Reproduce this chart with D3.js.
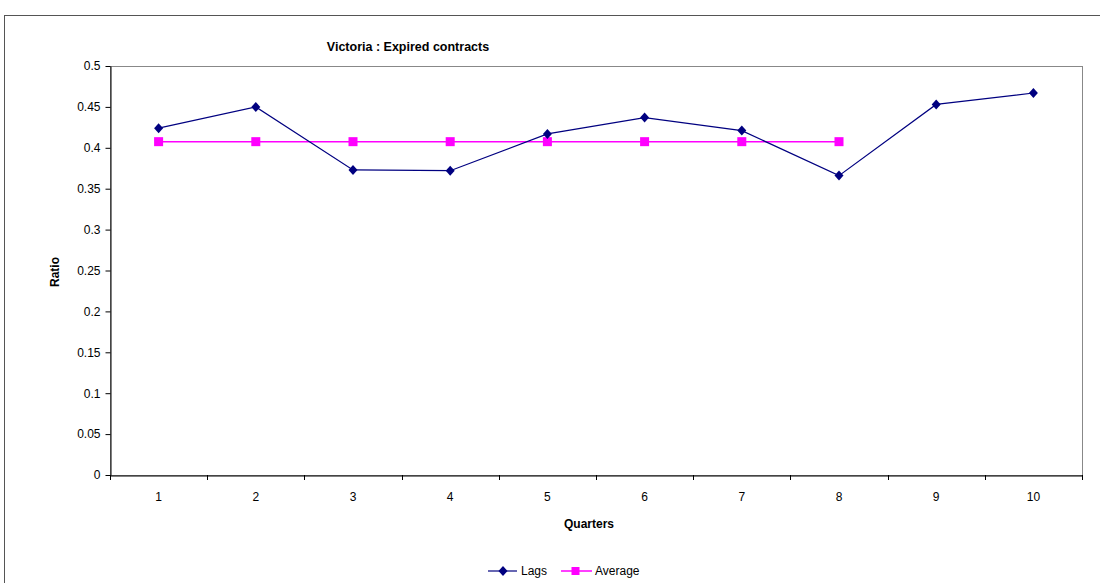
<!DOCTYPE html>
<html><head><meta charset="utf-8">
<script src="https://cdn.jsdelivr.net/npm/d3@7"></script>
<style>body{margin:0;background:#fff}svg{display:block}</style>
</head><body><svg id="c" width="1100" height="583"></svg>
<script>
const quarters = ["1","2","3","4","5","6","7","8","9","10"];
const lags = [0.424, 0.450, 0.373, 0.372, 0.417, 0.437, 0.421, 0.366, 0.453, 0.467];
const average = [0.4075, 0.4075, 0.4075, 0.4075, 0.4075, 0.4075, 0.4075, 0.4075];
const yTicks = [0, 0.05, 0.1, 0.15, 0.2, 0.25, 0.3, 0.35, 0.4, 0.45, 0.5];

const svg = d3.select("#c");
const L = 110, R = 1082, T = 66, B = 475;
const font = "Arial, 'Liberation Sans', sans-serif";

svg.append("rect").attr("x", 4.5).attr("y", 15.5).attr("width", 1110).attr("height", 600)
  .attr("fill", "#fff").attr("stroke", "#555").attr("stroke-width", 1);

const x = d3.scaleBand().domain(quarters).range([L, R]).padding(0);
const y = d3.scaleLinear().domain([0, 0.5]).range([B, T]);

// plot border
svg.append("rect").attr("x", L + 0.5).attr("y", T + 0.5).attr("width", R - L).attr("height", B - T)
  .attr("fill", "none").attr("stroke", "#888");

// y axis
const ya = svg.append("g").attr("transform", `translate(${L + 0.5},0)`)
  .call(d3.axisLeft(y).tickValues(yTicks).tickFormat(d3.format("")).tickSize(5).tickSizeOuter(0));
ya.select(".domain").attr("stroke", "#000");
ya.selectAll(".tick line").attr("stroke", "#000");
ya.selectAll("text").attr("font-family", font).attr("font-size", 12).attr("fill", "#000").attr("x", -10);

// x axis
const xa = svg.append("g").attr("transform", `translate(0,${B + 0.5})`)
  .call(d3.axisBottom(x).tickSize(0).tickSizeOuter(0));
xa.select(".domain").attr("stroke", "#000");
xa.selectAll("text").attr("font-family", font).attr("font-size", 12).attr("fill", "#000").attr("y", 0).attr("dy", "25");
const bounds = quarters.map(q => x(q)).concat([R]);
svg.append("g").selectAll("line").data(bounds).join("line")
  .attr("x1", d => Math.round(d) + 0.5).attr("x2", d => Math.round(d) + 0.5)
  .attr("y1", B).attr("y2", B + 5).attr("stroke", "#000");

const cx = i => x(quarters[i]) + x.bandwidth() / 2;

// Average line
svg.append("path").datum(average)
  .attr("d", d3.line().x((d, i) => cx(i)).y(d => y(d)))
  .attr("fill", "none").attr("stroke", "#FF00FF").attr("stroke-width", 1.5);
svg.append("g").selectAll("rect").data(average).join("rect")
  .attr("x", (d, i) => cx(i) - 4.5).attr("y", d => y(d) - 4.5).attr("width", 9).attr("height", 9)
  .attr("fill", "#FF00FF");

// Lags line
svg.append("path").datum(lags)
  .attr("d", d3.line().x((d, i) => cx(i)).y(d => y(d)))
  .attr("fill", "none").attr("stroke", "#000080").attr("stroke-width", 1.2);
const diamond = "M0,-5L4.5,0L0,5L-4.5,0Z";
svg.append("g").selectAll("path").data(lags).join("path")
  .attr("d", diamond).attr("transform", (d, i) => `translate(${cx(i)},${y(d)})`)
  .attr("fill", "#000080");

// title
svg.append("text").attr("x", 408).attr("y", 51).attr("text-anchor", "middle")
  .attr("font-family", "'Liberation Sans Narrow', 'Arial Narrow', " + font)
  .attr("font-weight", "bold").attr("font-size", 12.5).text("Victoria : Expired contracts");

// axis titles
svg.append("text").attr("x", 589).attr("y", 528).attr("text-anchor", "middle")
  .attr("font-family", font).attr("font-weight", "bold").attr("font-size", 12).text("Quarters");
svg.append("text").attr("transform", "translate(59,272) rotate(-90)").attr("text-anchor", "middle")
  .attr("font-family", font).attr("font-weight", "bold").attr("font-size", 12).text("Ratio");

// legend
const lg = svg.append("g");
lg.append("line").attr("x1", 488).attr("x2", 517).attr("y1", 571).attr("y2", 571).attr("stroke", "#000080").attr("stroke-width", 1.2);
lg.append("path").attr("d", diamond).attr("transform", "translate(503,571)").attr("fill", "#000080");
lg.append("text").attr("x", 521).attr("y", 575).attr("font-family", font).attr("font-size", 12).text("Lags");
lg.append("line").attr("x1", 561).attr("x2", 592).attr("y1", 571).attr("y2", 571).attr("stroke", "#FF00FF").attr("stroke-width", 1.5);
lg.append("rect").attr("x", 571.5).attr("y", 567).attr("width", 8).attr("height", 8).attr("fill", "#FF00FF");
lg.append("text").attr("x", 595).attr("y", 575).attr("font-family", font).attr("font-size", 12).text("Average");
</script></body></html>
